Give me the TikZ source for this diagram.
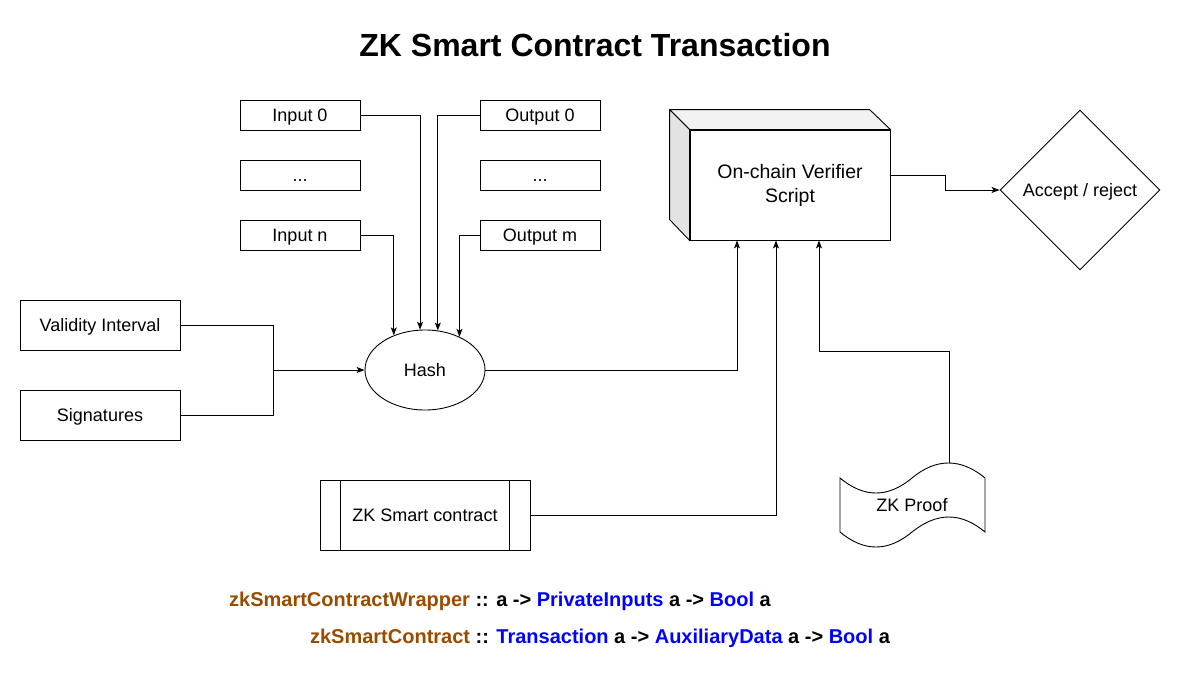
\documentclass[tikz,border=0pt]{standalone}
\usepackage{fontspec}
\setmainfont{Liberation Sans}
\usetikzlibrary{shapes.geometric,arrows.meta,calc}
\definecolor{brownc}{HTML}{994C00}
\definecolor{bluec}{HTML}{0000FF}
\definecolor{sidegray}{HTML}{E3E3E3}
\definecolor{topgray}{HTML}{F2F2F2}
\begin{document}
\begin{tikzpicture}[x=1pt,y=-1pt,
  ln/.style={line width=0.9pt},
  lbl/.style={font=\fontsize{18}{21}\selectfont,text height=12.9pt,text depth=0pt},
  box/.style={draw,line width=0.9pt,rectangle,minimum width=120pt,minimum height=30pt,inner sep=0pt,lbl},
  arr/.style={line width=0.9pt,-{Stealth[length=8pt,width=6pt,inset=2pt]}},
  sigtxt/.style={font=\bfseries\fontsize{20}{24}\selectfont,text height=14.3pt,text depth=0pt}]
\useasboundingbox (0,0) rectangle (1181,680);

\node[font=\bfseries\fontsize{32}{38}\selectfont,text height=23pt,text depth=0pt] (title) at (595,45) {ZK Smart Contract Transaction};

\node[box] (in0) at (300,115) {Input 0};
\node[box] (ind) at (300,175) {...};
\node[box] (inn) at (300,235) {Input n};
\node[box] (out0) at (540,115) {Output 0};
\node[box] (outd) at (540,175) {...};
\node[box] (outm) at (540,235) {Output m};
\node[box,minimum width=160pt,minimum height=50pt] (vi) at (100,325) {Validity Interval};
\node[box,minimum width=160pt,minimum height=50pt] (sig) at (100,415) {Signatures};
\node[draw,ellipse,ln,minimum width=120pt,minimum height=80pt,inner sep=0pt,lbl] (hash) at (425,370) {Hash};

% cube
\node[draw,line width=0.9pt,rectangle,inner sep=0pt,minimum width=200pt,minimum height=110pt,align=center,font=\fontsize{19.5}{24}\selectfont] (ver) at (790,185) {On-chain Verifier\\Script};
\filldraw[ln,fill=topgray,line join=round] (ver.north west) -- ++(-20,-20) -- ++(200,0) -- (ver.north east) -- cycle;
\filldraw[ln,fill=sidegray,line join=round] (ver.north west) -- ++(-20,-20) -- ++(0,110) -- (ver.south west) -- cycle;

\node[draw,diamond,ln,minimum width=160pt,minimum height=160pt,inner sep=0pt,lbl] (dec) at (1080,190) {Accept / reject};

\node[box,minimum width=210pt,minimum height=70pt] (zk) at (425,515) {ZK Smart contract};
\draw[ln] ([xshift=21pt]zk.north west) -- ([xshift=21pt]zk.south west);
\draw[ln] ([xshift=-21pt]zk.north east) -- ([xshift=-21pt]zk.south east);

% tape
\draw[ln] (840,478) .. controls (864,498) and (888,498) .. (912,478) .. controls (936,458) and (961,458) .. (985,478) -- (985,532) .. controls (961,512) and (937,512) .. (912,532) .. controls (888,552) and (864,552) .. (840,532) -- cycle;
\node[lbl] (proof) at (912,505) {ZK Proof};
\coordinate (proofTop) at (949,463);

% connectors
\draw[arr] (in0.east) -| (hash.97);
\draw[arr] (out0.west) -| (hash.72);
\draw[arr] (inn.east) -| (hash.132);
\draw[arr] (outm.west) -| (hash.44);
\coordinate (j) at (273,370);
\draw[ln] (vi.east) -| (j);
\draw[ln] (sig.east) -| (j);
\draw[arr] (j) -- (hash.west);
\draw[arr] (hash.east) -| ([xshift=-53pt]ver.south);
\draw[arr] (zk.east) -| ([xshift=-14pt]ver.south);
\draw[arr] (proofTop) -- ++(0,-112) -| ([xshift=29pt]ver.south);
\draw[arr] ([yshift=10pt]ver.east) -- ++(55,0) |- (dec.west);

\node[sigtxt] (sig1) at (500,599) {\textcolor{brownc}{zkSmartContractWrapper} :: a -> \textcolor{bluec}{PrivateInputs} a -> \textcolor{bluec}{Bool} a};
\node[sigtxt] (sig2) at (600,636) {\textcolor{brownc}{zkSmartContract} :: \textcolor{bluec}{Transaction} a -> \textcolor{bluec}{AuxiliaryData} a -> \textcolor{bluec}{Bool} a};
\end{tikzpicture}
\end{document}
